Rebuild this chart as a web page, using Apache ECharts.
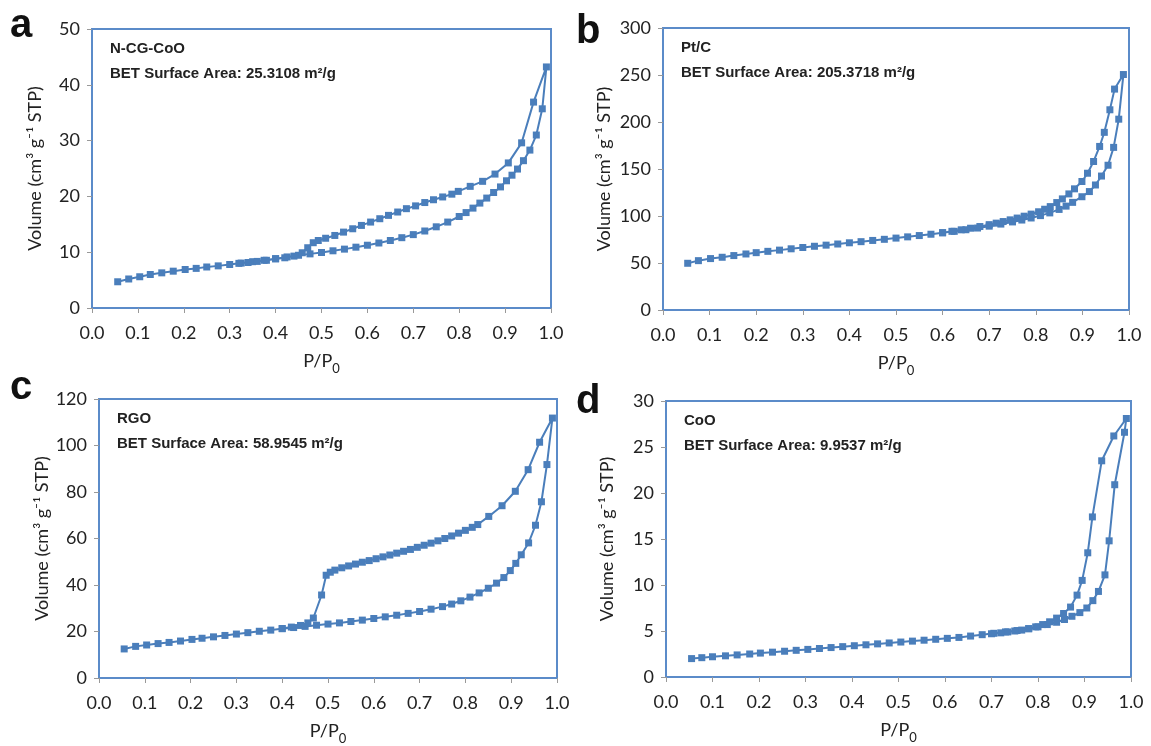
<!DOCTYPE html>
<html>
<head>
<meta charset="utf-8">
<script src="https://cdn.jsdelivr.net/npm/echarts@6/dist/echarts.min.js"></script>
<style>
  html, body { margin: 0; padding: 0; background: #fff; }
  #chart { width: 1151px; height: 746px; }
</style>
</head>
<body>
<div id="chart"></div>
<script>
// N-CG-CoO (panel a)
var ncgAds = [[0.056,4.7],[0.080,5.2],[0.104,5.6],[0.127,6.0],[0.152,6.3],[0.177,6.6],[0.203,6.9],[0.227,7.1],
  [0.250,7.35],[0.275,7.55],[0.300,7.8],[0.325,8.05],[0.350,8.3],[0.375,8.55],[0.400,8.85],[0.425,9.15],
  [0.450,9.45],[0.475,9.7],[0.500,9.95],[0.525,10.25],[0.550,10.55],[0.575,10.9],[0.600,11.25],[0.625,11.65],
  [0.650,12.1],[0.675,12.6],[0.700,13.15],[0.725,13.8],[0.750,14.55],[0.775,15.4],[0.800,16.4],[0.815,17.1],
  [0.830,17.9],[0.845,18.8],[0.860,19.7],[0.875,20.7],[0.890,21.7],[0.903,22.8],[0.915,23.8],[0.927,24.9],
  [0.940,26.4],[0.954,28.3],[0.968,31.0],[0.981,35.7],[0.990,43.2]];
var ncgDes = [[0.962,36.9],[0.936,29.6],[0.907,26.0],[0.878,24.0],[0.851,22.7],[0.824,21.8],[0.798,20.9],
  [0.784,20.4],[0.764,19.9],[0.744,19.4],[0.725,18.9],[0.705,18.3],[0.685,17.8],[0.666,17.2],[0.646,16.6],
  [0.627,16.0],[0.607,15.4],[0.587,14.8],[0.568,14.2],[0.548,13.6],[0.529,13.0],[0.509,12.5],[0.493,12.1],
  [0.482,11.7],[0.470,10.8],[0.458,9.9],[0.440,9.3],[0.420,9.0],[0.400,8.8],[0.380,8.55],[0.360,8.35],
  [0.340,8.15],[0.320,8.0]];

// Pt/C (panel b)
var ptcAds = [[0.053,49.7],[0.076,52.5],[0.102,54.7],[0.127,56.1],[0.152,57.9],[0.178,59.6],[0.200,61.0],
  [0.225,62.4],[0.250,63.7],[0.275,65.1],[0.300,66.5],[0.325,67.8],[0.350,69.0],[0.375,70.2],[0.400,71.5],
  [0.425,72.7],[0.450,74.0],[0.475,75.2],[0.500,76.5],[0.525,77.8],[0.550,79.2],[0.575,80.6],[0.600,82.1],
  [0.625,83.7],[0.650,85.4],[0.675,87.2],[0.700,89.2],[0.725,91.4],[0.750,93.7],[0.770,95.7],[0.790,97.9],
  [0.810,100.4],[0.830,103.3],[0.850,107.0],[0.865,110.5],[0.879,114.5],[0.899,120.5],[0.915,126.0],
  [0.928,133.0],[0.941,142.5],[0.955,154.0],[0.967,173.0],[0.978,203.0],[0.988,250.5]];
var ptcDes = [[0.969,235],[0.959,213],[0.947,189],[0.937,174],[0.924,158],[0.911,145.5],[0.899,136.7],
  [0.883,128.9],[0.871,123.5],[0.857,118.2],[0.845,114.3],[0.831,110.0],[0.819,107.2],[0.806,104.5],
  [0.790,102.0],[0.775,99.8],[0.760,97.8],[0.745,95.9],[0.730,94.1],[0.715,92.4],[0.700,90.8],[0.680,88.8],
  [0.660,87.0],[0.640,85.3],[0.620,83.7],[0.600,82.3]];

// RGO (panel c)
var rgoAds = [[0.055,12.5],[0.080,13.6],[0.104,14.2],[0.129,14.8],[0.153,15.3],[0.178,15.9],[0.203,16.6],
  [0.225,17.1],[0.250,17.7],[0.275,18.3],[0.300,18.9],[0.325,19.5],[0.350,20.1],[0.375,20.6],[0.400,21.2],
  [0.425,21.7],[0.450,22.2],[0.475,22.7],[0.500,23.2],[0.525,23.7],[0.550,24.3],[0.575,24.9],[0.600,25.6],
  [0.625,26.3],[0.650,27.0],[0.675,27.8],[0.700,28.6],[0.725,29.6],[0.750,30.7],[0.770,31.8],[0.790,33.2],
  [0.810,34.8],[0.830,36.6],[0.850,38.6],[0.868,40.8],[0.884,43.2],[0.898,46.2],[0.910,49.3],[0.922,53.0],
  [0.938,58.1],[0.953,65.7],[0.966,75.8],[0.978,91.8],[0.990,111.8]];
var rgoDes = [[0.962,101.4],[0.937,89.6],[0.909,80.3],[0.880,74.1],[0.851,69.5],[0.827,66.0],[0.815,64.8],
  [0.800,63.5],[0.785,62.3],[0.770,61.1],[0.755,60.0],[0.740,59.0],[0.725,58.0],[0.710,57.1],[0.695,56.2],
  [0.680,55.3],[0.665,54.5],[0.650,53.7],[0.635,52.9],[0.620,52.1],[0.605,51.3],[0.590,50.5],[0.575,49.8],
  [0.560,49.0],[0.545,48.2],[0.530,47.4],[0.515,46.4],[0.505,45.5],[0.496,44.2],[0.486,35.7],[0.468,25.8],
  [0.456,23.7],[0.440,22.6],[0.420,21.9],[0.400,21.3]];

// CoO (panel d)
var cooAds = [[0.055,2.0],[0.077,2.1],[0.100,2.2],[0.128,2.3],[0.153,2.4],[0.180,2.5],[0.203,2.6],[0.229,2.7],
  [0.255,2.8],[0.280,2.9],[0.305,3.0],[0.330,3.1],[0.355,3.2],[0.380,3.3],[0.405,3.4],[0.430,3.5],[0.455,3.6],
  [0.480,3.7],[0.505,3.8],[0.530,3.9],[0.555,4.0],[0.580,4.1],[0.605,4.2],[0.630,4.3],[0.655,4.45],[0.680,4.6],
  [0.705,4.75],[0.730,4.9],[0.755,5.05],[0.780,5.25],[0.800,5.45],[0.820,5.7],[0.840,5.95],[0.857,6.25],
  [0.873,6.6],[0.890,7.0],[0.905,7.5],[0.918,8.3],[0.930,9.3],[0.944,11.1],[0.953,14.8],[0.965,20.9],
  [0.986,26.6],[0.990,28.1]];
var cooDes = [[0.963,26.2],[0.937,23.5],[0.917,17.4],[0.907,13.5],[0.895,10.5],[0.884,8.9],[0.870,7.6],
  [0.855,6.9],[0.840,6.4],[0.825,6.0],[0.810,5.7],[0.795,5.45],[0.780,5.25],[0.765,5.1],[0.750,5.0],
  [0.735,4.9],[0.720,4.8],[0.700,4.7]];

var panelLetters = ['a', 'b', 'c', 'd'];
var sampleNames = ['N-CG-CoO', 'Pt/C', 'RGO', 'CoO'];
var betAreas = ['25.3108', '205.3718', '58.9545', '9.9537'];
var yMax = [50, 300, 120, 30];
var yStep = [10, 50, 20, 5];

var LINE = '#4a7ebb';
var FONT = 'Lato, "Open Sans", "DejaVu Sans", sans-serif';
var BOLD = 'bold 15px "Liberation Sans", Arial, sans-serif';

var grids = [
  {left: 92, top: 29, width: 459, height: 279},
  {left: 663, top: 28, width: 466, height: 282},
  {left: 99, top: 399, width: 458, height: 279},
  {left: 666, top: 401, width: 465, height: 276}
];
var letterPos = [[10, 26], [576, 32], [10, 388], [576, 402]];
var curves = [ncgAds.concat(ncgDes), ptcAds.concat(ptcDes), rgoAds.concat(rgoDes), cooAds.concat(cooDes)];

var xAxes = [], yAxes = [], series = [], graphic = [];
grids.forEach(function (g, i) {
  g.show = true;
  g.borderColor = '#5b8bc9';
  g.borderWidth = 2;
  xAxes.push({
    gridIndex: i, type: 'value', min: 0, max: 1, interval: 0.1,
    name: '{a|P/P}{b|0}', nameLocation: 'middle', nameGap: 44,
    nameTextStyle: {
      rich: {
        a: {fontFamily: FONT, fontSize: 18, color: '#222', padding: [0, 0, 5, 0], verticalAlign: 'top'},
        b: {fontFamily: FONT, fontSize: 13, color: '#222', verticalAlign: 'bottom'}
      }
    },
    axisLine: {show: false},
    axisTick: {show: true, length: 5, lineStyle: {color: '#999'}},
    splitLine: {show: false},
    axisLabel: {margin: 16, fontFamily: FONT, fontSize: 18, color: '#222',
      formatter: function (v) { return v.toFixed(1); }}
  });
  yAxes.push({
    gridIndex: i, type: 'value', min: 0, max: yMax[i], interval: yStep[i],
    name: 'Volume (cm\u00b3 g\u207b\u00b9 STP)', nameLocation: 'middle', nameGap: i % 2 ? 50 : 48,
    nameTextStyle: {fontFamily: FONT, fontSize: 18, color: '#222'},
    axisLine: {show: false},
    axisTick: {show: true, length: 5, lineStyle: {color: '#999'}},
    splitLine: {show: false},
    axisLabel: {margin: 12, fontFamily: FONT, fontSize: 18, color: '#222'}
  });
  series.push({
    type: 'line', xAxisIndex: i, yAxisIndex: i, data: curves[i],
    symbol: 'rect', symbolSize: 7, showAllSymbol: true,
    lineStyle: {color: LINE, width: 2},
    itemStyle: {color: LINE},
    animation: false
  });
  graphic.push({
    type: 'text', left: letterPos[i][0], top: letterPos[i][1] - 20,
    style: {text: panelLetters[i], font: 'bold 40px "Liberation Sans", Arial, sans-serif', fill: '#111'}
  });
  graphic.push({
    type: 'text', left: g.left + 18, top: g.top + 12,
    style: {text: sampleNames[i], font: BOLD, fill: '#222'}
  });
  graphic.push({
    type: 'text', left: g.left + 18, top: g.top + 37,
    style: {text: 'BET Surface Area: ' + betAreas[i] + ' m\u00b2/g', font: BOLD, fill: '#222'}
  });
});

var myChart = echarts.init(document.getElementById('chart'));
myChart.setOption({
  backgroundColor: '#fff',
  animation: false,
  grid: grids,
  xAxis: xAxes,
  yAxis: yAxes,
  series: series,
  graphic: graphic
});
</script>
</body>
</html>
